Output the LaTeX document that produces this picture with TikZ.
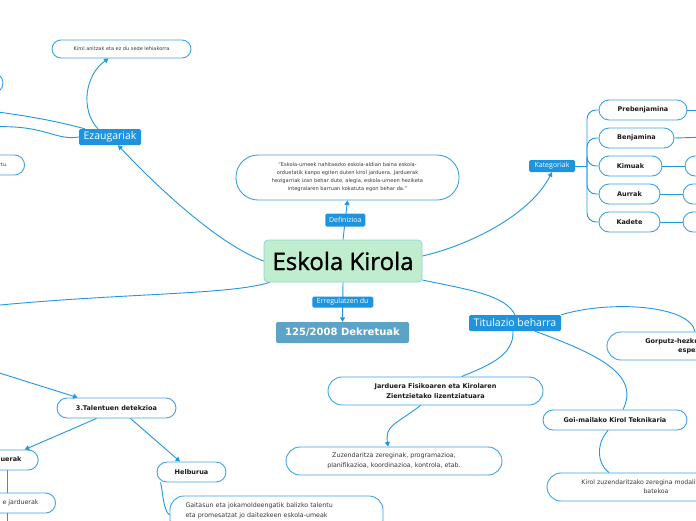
\documentclass[tikz,border=0pt]{standalone}
\usepackage{fontspec}
\setmainfont{DejaVu Sans}
\newfontfamily\osans{Open Sans}
\newfontfamily\osansheavy[FakeBold=1.2]{Open Sans}
\usetikzlibrary{arrows.meta,calc}
\definecolor{lineblue}{RGB}{33,150,226}
\definecolor{boxblue}{RGB}{30,148,222}
\definecolor{nodeborder}{RGB}{60,162,232}
\definecolor{centralfill}{RGB}{192,237,206}
\definecolor{centralborder}{RGB}{140,214,214}
\definecolor{decfill}{RGB}{91,164,200}
\definecolor{txtgray}{RGB}{55,55,55}
\tikzset{
  conn/.style={draw=lineblue, line width=0.9pt},
  arr/.style={conn, -{Triangle[length=4.5pt,width=5pt]}},
  pill/.style={draw=nodeborder, line width=0.9pt, fill=white, rounded corners=10pt,
    minimum height=20pt, inner sep=0pt, align=center, text=black!90,
    font=\bfseries\fontsize{6.5}{9.5}\selectfont},
  pilltext/.style={pill, text=txtgray, font=\fontsize{6.3}{10}\selectfont},
  tag/.style={fill=boxblue, rounded corners=1.5pt, text=white, inner sep=0pt,
    font=\osans\fontsize{7}{8}\selectfont},
  bigtag/.style={tag, font=\osans\fontsize{10.5}{12}\selectfont},
}
\begin{document}
\begin{tikzpicture}[x=1pt,y=-1pt]
\useasboundingbox (0,0) rectangle (696,520);
\clip (0,0) rectangle (696,520);

% central
\node[draw=centralborder, fill=centralfill, line width=0.8pt, rounded corners=4pt,
  minimum width=158pt, minimum height=42pt, inner sep=0pt,
  font=\osansheavy\fontsize{24}{26}\selectfont] (central) at (343,261) {Eskola Kirola};

% definition
\node[pilltext, rounded corners=22pt, minimum width=223pt, minimum height=45pt,
  font=\fontsize{5.1}{8}\selectfont] (def) at (347.5,177.5)
  {"Eskola-umeek nahitaezko eskola-aldian baina eskola-\\orduetatik kanpo egiten duten kirol jarduera. Jarduerak\\hezigarriak izan behar dute, alegia, eskola-umeen heziketa\\integralaren barruan kokatuta egon behar da."};

\node[fill=decfill, rounded corners=2pt, text=white, minimum width=133pt, minimum height=21pt,
  inner sep=0pt, font=\bfseries\fontsize{10}{12}\selectfont] (dek) at (342.5,332.5) {125/2008 Dekretuak};

% Ezaugariak
\node[bigtag, minimum width=62pt, minimum height=16pt] (ezau) at (110,137) {Ezaugariak};
\node[pilltext, minimum width=139pt, minimum height=18pt, rounded corners=9pt,
  font=\fontsize{5}{6}\selectfont] (anitz) at (121.5,49) {Kirol anitzak eta ez du sede lehiakorra};
\node[pill, minimum width=86pt] (lt) at (-40,83) {};
\node[pilltext, anchor=east, text width=96pt, align=right, inner xsep=17pt, minimum height=20pt,
  font=\fontsize{5}{6}\selectfont] (rtu) at (25,165) {rtu.};

% Kategoriak
\node[tag, minimum width=46pt, minimum height=12pt] (kat) at (552,166) {Kategoriak};
\node[pill, minimum width=88pt] (preb) at (643,110) {Prebenjamina};
\node[pill, minimum width=75pt] (benj) at (636.5,138) {Benjamina};
\node[pill, minimum width=63pt] (kim) at (630.5,166) {Kimuak};
\node[pill, minimum width=61pt] (aur) at (629.5,194) {Aurrak};
\node[pill, minimum width=61pt] (kad) at (629.5,222) {Kadete};
\node[pill, minimum width=70pt] (kimr) at (720,166) {};
\node[pill, minimum width=70pt] (aurr) at (718,194) {};
\node[pill, minimum width=70pt] (kadr) at (718,222) {};
\coordinate (prebR) at (710,110);
\coordinate (benjR) at (710,137);

% Titulazio
\node[bigtag, minimum width=92pt, minimum height=16pt] (titu) at (515,323) {Titulazio beharra};
\node[pill, minimum width=186pt, minimum height=28pt, rounded corners=14pt] (gorp) at (700,346)
  {Gorputz-hezkuntzako irakasle\\espezialista};
\node[pill, minimum width=215pt, minimum height=28pt, rounded corners=14pt] (jfk) at (435.5,391)
  {Jarduera Fisikoaren eta Kirolaren\\Zientzietako lizentziatuara};
\node[pilltext, minimum width=216pt, minimum height=28pt, rounded corners=14pt] (zuz) at (394,461)
  {Zuzendaritza zereginak, programazioa,\\planifikazioa, koordinazioa, kontrola, etab.};
\node[pill, minimum width=144pt] (goi) at (615,420) {Goi-mailako Kirol Teknikaria};
\node[pilltext, minimum width=218pt, minimum height=28pt, rounded corners=14pt,
  font=\fontsize{6.2}{9}\selectfont] (kzuz) at (656,487) {Kirol zuzendaritzako zeregina modalitate zehatz\\batekoa};

% Talentuen
\node[pill, minimum width=119pt] (tal) at (116.5,408) {3.Talentuen detekzioa};
\node[pill, minimum width=69pt] (jard) at (3.7,460) {Jarduerak};
\node[pilltext, anchor=east, text width=100pt, align=right, inner xsep=17pt, minimum height=20pt] (ejard) at (56,503) {e jarduerak};
\node[pill, minimum width=69pt] (helb) at (191.5,472) {Helburua};
\node[pilltext, minimum width=213pt, minimum height=38pt, rounded corners=14pt, align=left,
  text width=182pt] (gait) at (276.5,515)
  {Gaitasun eta jokamoldeengatik balizko talentu\\eta promesatzat jo daitezkeen eskola-umeak\\\mbox{}};

% connectors
\draw[arr] (central.north) -- node[tag, minimum width=40pt, minimum height=13pt] (defl) {Definizioa} (def.south);
\draw[arr] (central.south) -- node[tag, minimum width=61pt, minimum height=11pt] (errl) {Erregulatzen du} (dek.north);

\draw[arr] (central.west) .. controls (220,245) and (160,190) .. ($(ezau.south)+(8,0)$);
\draw[arr] ($(ezau.north)+(-12,0)$) .. controls (80,110) and (85,75) .. ($(anitz.south)+(-13,0)$);
\coordinate (offA) at (-10,111);
\coordinate (offB) at (-10,127);
\draw[conn] ($(ezau.north west)+(6,0)$) .. controls (60,122) and (30,116) .. (offA);
\draw[conn] (ezau.west) .. controls (55,141) and (45,124) .. (offB);

\draw[arr] ($(central.east)+(0,-5)$) .. controls (470,245) and (530,215) .. (kat.south);
\coordinate (sp) at (587,166);
\draw[conn] (kat.east) -- (sp);
\foreach \c in {preb,benj,kim,aur,kad}{
  \draw[conn, rounded corners=9pt] (sp) |- (\c.west);
}
\draw[conn] (preb.east) -- (prebR);
\draw[conn] (benj.east) -- (benjR);
\draw[conn] (kim.east) -- (kimr.west);
\draw[conn] (aur.east) -- (aurr.west);
\draw[conn] (kad.east) -- (kadr.west);

\draw[conn] ($(central.east)+(0,19)$) .. controls (470,290) and (505,295) .. (titu.north);
\draw[conn] (titu.north east) .. controls (610,300) and (690,305) .. ($(gorp.north)+(-5,0)$);
\draw[conn] ($(titu.south)+(-2,0)$) .. controls (514,355) and (490,365) .. ($(jfk.north)+(26,0)$);
\draw[conn] ($(titu.south)+(20,0)$) .. controls (600,355) and (640,375) .. ($(goi.north)+(8,0)$);
\draw[arr] ($(jfk.south)+(-15,0)$) .. controls (395,425) and (385,425) .. ($(zuz.north)+(-6,0)$);
\draw[conn] ($(goi.south)+(-7,0)$) .. controls (595,445) and (598,465) .. ($(kzuz.north)+(-47,0)$);

\coordinate (offC) at (-10,306);
\draw[conn] ($(central.south west)+(6,0)$) .. controls (230,295) and (120,293) .. (offC);
\coordinate (offD) at (-10,370);
\draw[arr] (offD) -- ($(tal.north west)+(21,0)$);
\draw[arr] ($(tal.south)+(-20,0)$) -- ($(jard.north)+(21,0)$);
\draw[arr] ($(tal.south)+(14,0)$) -- ($(helb.north)+(-11.5,0)$);
\draw[conn] ($(jard.south)+(4,0)$) coordinate (j1) -- (j1 |- ejard.north);
\coordinate (offE) at (7.7,530);
\draw[conn] (ejard.south -| offE) -- (offE);
\draw[conn] ($(helb.south west)+(4,0)$) .. controls (163,492) and (163,510) .. (gait.west);
\end{tikzpicture}
\end{document}
